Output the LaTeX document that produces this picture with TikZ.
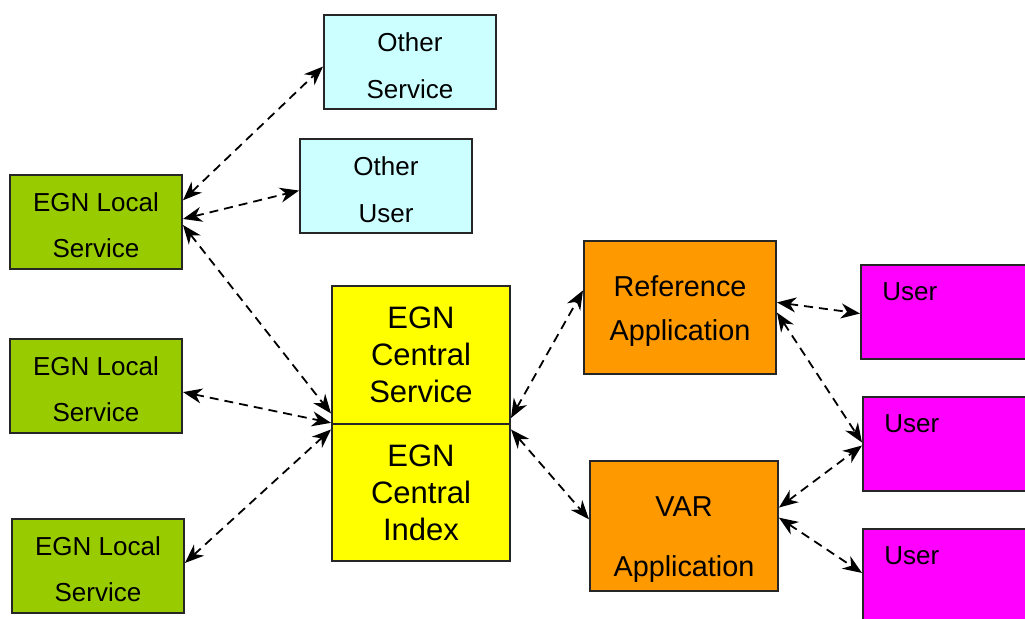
\documentclass[tikz,border=0pt]{standalone}
\usepackage{fontspec}
\setmainfont{Liberation Sans}
\usetikzlibrary{arrows.meta}
\definecolor{localgreen}{HTML}{99CC00}
\definecolor{othercyan}{HTML}{CCFFFF}
\definecolor{centralyellow}{HTML}{FFFF00}
\definecolor{apporange}{HTML}{FF9900}
\definecolor{usermagenta}{HTML}{FF00FF}
\newcommand{\topgap}[1]{\rule{0pt}{#1}}
\begin{document}
\begin{tikzpicture}[x=0.5pt, y=-0.5pt,
    box/.style={draw=black!85, line width=1pt, inner sep=0pt, align=center},
    smallbox/.style={box, minimum width=86pt, minimum height=47pt},
    localbox/.style={smallbox, fill=localgreen, font=\fontsize{13}{23}\selectfont},
    otherbox/.style={smallbox, fill=othercyan, font=\fontsize{13}{23.5}\selectfont},
    centralbox/.style={box, fill=centralyellow, minimum width=89pt, font=\fontsize{15.5}{18.5}\selectfont},
    appbox/.style={box, fill=apporange, font=\fontsize{14.4}{22}\selectfont},
    userbox/.style={smallbox, fill=usermagenta,
        label={[anchor=north west, inner sep=0pt, xshift=11pt, yshift=-9pt, font=\fontsize{13}{16}\selectfont]north west:User}},
    link/.style={{Stealth[length=9.5pt,width=7.5pt,inset=3pt]}-{Stealth[length=9.5pt,width=7.5pt,inset=3pt]},
        dash pattern=on 4.5pt off 3pt, line width=0.9pt}]
    \clip (0,0) rectangle (1025,619);

    % Servizi e utenti esterni
    \node[otherbox] (othersvc) at (410,62) {\topgap{13pt}Other\\Service};
    \node[otherbox] (otheruser) at (386,186) {\topgap{13pt}Other\\User};

    % Servizi locali
    \node[localbox] (local1) at (96,222) {\topgap{13pt}EGN Local\\Service};
    \node[localbox] (local2) at (96,386) {\topgap{13pt}EGN Local\\Service};
    \node[localbox] (local3) at (98,566) {\topgap{13pt}EGN Local\\Service};

    % Servizio e indice centrale
    \node[centralbox, minimum height=69pt] (centralsvc) at (421,355) {EGN\\Central\\Service};
    \node[centralbox, minimum height=68.5pt] (centralidx) at (421,492.5) {EGN\\Central\\Index};

    % Applicazioni
    \node[appbox, minimum width=96pt, minimum height=66.5pt] (refapp) at (680,307.5) {\topgap{13.5pt}Reference\\Application};
    \node[appbox, minimum width=94pt, minimum height=65pt, font=\fontsize{14.4}{30}\selectfont] (varapp) at (684,526) {\topgap{23.5pt}VAR\\Application};

    % Utenti
    \node[userbox] (user1) at (947,312) {};
    \node[userbox] (user2) at (949,444) {};
    \node[userbox] (user3) at (949,576) {};

    % Collegamenti
    \draw[link] (local1.14) -- (othersvc.183);
    \draw[link] (local1.2) -- (otheruser.183);
    \draw[link] (local1.-2) -- (centralsvc.213);
    \draw[link] (local2.-4) -- (centralsvc.217);
    \draw[link] (local3.2) -- (centralidx.145);
    \draw[link] (centralsvc.-35) -- (refapp.170);
    \draw[link] (centralidx.35) -- (varapp.176);
    \draw[link] (refapp.3) -- (user1.181);
    \draw[link] (refapp.-3) -- (user2.179);
    \draw[link] (varapp.11) -- (user2.181);
    \draw[link] (varapp.5) -- (user3.178);
\end{tikzpicture}
\end{document}
